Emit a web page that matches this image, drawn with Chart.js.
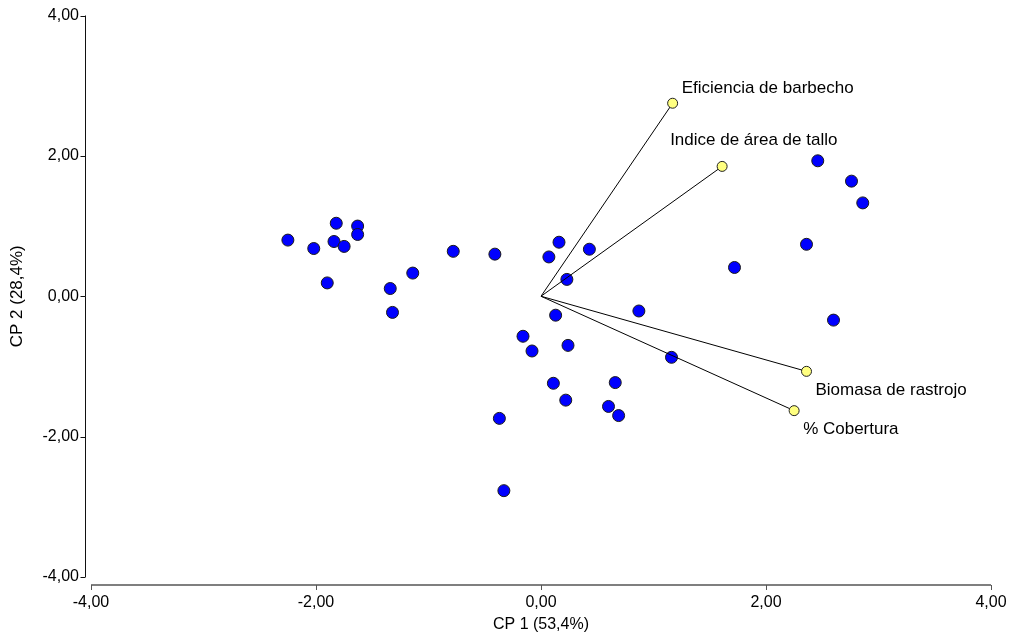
<!DOCTYPE html>
<html>
<head>
<meta charset="utf-8">
<title>Biplot CP1 - CP2</title>
<script src="https://cdn.jsdelivr.net/npm/chart.js@4.4.1/dist/chart.umd.min.js"></script>
<style>
  html, body { margin: 0; padding: 0; background: #fff; }
  #wrap { width: 1010px; height: 636px; position: relative; }
</style>
</head>
<body>
<div id="wrap"><canvas id="biplot"></canvas></div>
<script>
// puntajes de las observaciones (CP 1, CP 2)
var obsX = [-2.25, -2.02, -1.82, -1.84, -1.75, -1.63, -1.63, -1.90, -1.14, -1.34, -1.32, -0.78,
            -0.41, 0.16, 0.07, 0.43, 0.23, 0.13, -0.16, -0.08, 0.24, 0.11, 0.22, 0.66,
            0.60, 0.69, -0.37, -0.33, 0.87, 1.16, 1.72, 2.36, 2.46, 2.76, 2.86, 2.60];
var obsY = [0.80, 0.68, 1.04, 0.78, 0.71, 1.00, 0.88, 0.19, 0.33, 0.11, -0.23, 0.64,
            0.60, 0.77, 0.56, 0.67, 0.24, -0.27, -0.57, -0.78, -0.70, -1.24, -1.48, -1.23,
            -1.57, -1.70, -1.74, -2.77, -0.21, -0.87, 0.41, 0.74, 1.93, 1.64, 1.33, -0.34];

// variables (vectores desde el origen)
var varNames = ['Eficiencia de barbecho', 'Indice de área de tallo', 'Biomasa de rastrojo', '% Cobertura'];
var varX = [1.17, 1.61, 2.36, 2.25];
var varY = [2.75, 1.85, -1.07, -1.63];

var xTicks = [-4, -2, 0, 2, 4];
var yTicks = [-4, -2, 0, 2, 4];

var fontFam = "'Liberation Sans', Arial, sans-serif";

function fmt(v) {
  return Number(v).toFixed(2).replace('.', ',');
}

// desplazamiento (px) de cada rotulo respecto a la punta del vector
var labelOffsets = [[9, -15], [-52, -26], [9, 19], [9, 19]];

var datasets = [];
for (var i = 0; i < varNames.length; i++) {
  datasets.push({
    label: varNames[i],
    data: [{x: 0, y: 0}, {x: varX[i], y: varY[i]}],
    showLine: true,
    borderColor: '#000',
    borderWidth: 1,
    pointRadius: [0, 5],
    pointBackgroundColor: '#ffff80',
    pointBorderColor: '#222',
    pointBorderWidth: 1,
    order: 0
  });
}
datasets.push({
  label: 'obs',
  data: obsX.map(function (x, k) { return {x: x, y: obsY[k]}; }),
  pointRadius: 6,
  pointBackgroundColor: '#0000ff',
  pointBorderColor: '#1a1a1a',
  pointBorderWidth: 1,
  order: 1
});

// ejes separados del area de graficado, con sus marcas
var axesPlugin = {
  id: 'ejes',
  afterDraw: function (chart) {
    var ctx = chart.ctx, area = chart.chartArea;
    var sx = chart.scales.x, sy = chart.scales.y;
    ctx.save();
    ctx.lineWidth = 1;

    var ax = Math.round(area.left - 6) + 0.5;
    var yTop = sy.getPixelForValue(yTicks[yTicks.length - 1]);
    var yBot = sy.getPixelForValue(yTicks[0]);
    ctx.strokeStyle = '#111';
    ctx.beginPath();
    ctx.moveTo(ax, yTop);
    ctx.lineTo(ax, yBot);
    yTicks.forEach(function (v) {
      var p = Math.round(sy.getPixelForValue(v)) + 0.5;
      ctx.moveTo(ax, p);
      ctx.lineTo(ax - 5, p);
    });
    ctx.stroke();

    var ay = Math.round(area.bottom + 8);
    ctx.strokeStyle = '#555';
    ctx.lineWidth = 1.5;
    ctx.beginPath();
    ctx.moveTo(sx.getPixelForValue(xTicks[0]), ay);
    ctx.lineTo(sx.getPixelForValue(xTicks[xTicks.length - 1]), ay);
    ctx.stroke();
    ctx.lineWidth = 1;
    ctx.beginPath();
    xTicks.forEach(function (v) {
      var p = Math.round(sx.getPixelForValue(v)) + 0.5;
      ctx.moveTo(p, ay);
      ctx.lineTo(p, ay + 5);
    });
    ctx.stroke();
    ctx.restore();
  }
};

// nombres de las variables junto a la punta de cada vector
var labelPlugin = {
  id: 'rotulos',
  afterDatasetsDraw: function (chart) {
    var ctx = chart.ctx;
    var sx = chart.scales.x, sy = chart.scales.y;
    ctx.save();
    ctx.font = '17px ' + fontFam;
    ctx.fillStyle = '#000';
    ctx.textAlign = 'left';
    ctx.textBaseline = 'middle';
    for (var i = 0; i < varNames.length; i++) {
      var px = sx.getPixelForValue(varX[i]);
      var py = sy.getPixelForValue(varY[i]);
      ctx.fillText(varNames[i], px + labelOffsets[i][0], py + labelOffsets[i][1]);
    }
    ctx.restore();
  }
};

var config = {
  type: 'scatter',
  data: { datasets: datasets },
  options: {
    responsive: true,
    maintainAspectRatio: false,
    animation: false,
    layout: { padding: { top: 15.5, right: 19, bottom: 0, left: 0 } },
    plugins: {
      legend: { display: false },
      tooltip: { enabled: false }
    },
    scales: {
      x: {
        type: 'linear',
        min: -4,
        max: 4,
        afterBuildTicks: function (scale) {
          scale.ticks = xTicks.map(function (v) { return {value: v}; });
        },
        afterFit: function (scale) {
          scale.height = 59;
          scale.paddingLeft = 0;
          scale.paddingRight = 0;
        },
        grid: { display: false, drawTicks: false },
        border: { display: false },
        ticks: {
          padding: 16,
          color: '#000',
          font: { family: fontFam, size: 16 },
          maxRotation: 0,
          callback: fmt
        },
        title: {
          display: true,
          text: 'CP 1 (53,4%)',
          color: '#000',
          font: { family: fontFam, size: 16 },
          padding: { top: 0, bottom: 2 }
        }
      },
      y: {
        type: 'linear',
        min: -4,
        max: 4,
        afterBuildTicks: function (scale) {
          scale.ticks = yTicks.map(function (v) { return {value: v}; });
        },
        afterFit: function (scale) {
          scale.width = 91;
          scale.paddingTop = 0;
          scale.paddingBottom = 0;
        },
        grid: { display: false, drawTicks: false },
        border: { display: false },
        ticks: {
          padding: 12,
          color: '#000',
          font: { family: fontFam, size: 16 },
          callback: fmt
        },
        title: {
          display: true,
          text: 'CP 2 (28,4%)',
          color: '#000',
          font: { family: fontFam, size: 17 },
          padding: { top: 7, bottom: 0 }
        }
      }
    }
  },
  plugins: [axesPlugin, labelPlugin]
};

var ctx = document.getElementById('biplot').getContext('2d');
window.biplot = new Chart(ctx, config);
</script>
</body>
</html>
